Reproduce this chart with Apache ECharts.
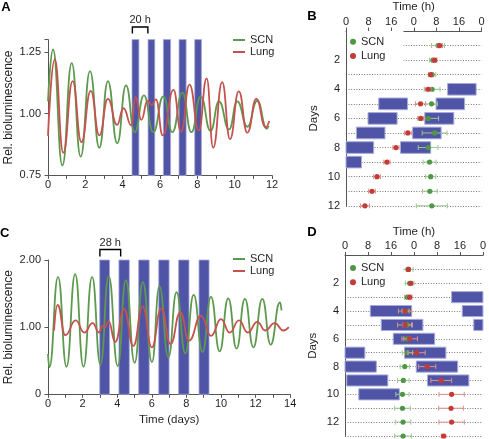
<!DOCTYPE html>
<html><head><meta charset="utf-8">
<script src="https://cdn.jsdelivr.net/npm/echarts@6/dist/echarts.min.js"></script>
<style>html,body{margin:0;padding:0;background:#fff}#c{width:489px;height:439px}</style>
</head><body><div id="c"></div>
<script>
// ---------- Panel A (20 h cycles) ----------
const aScn = [[0,1.05],[0.27,1.26],[0.77,0.79],[1.27,1.205],[1.75,0.826],[2.25,1.172],[2.75,0.862],[3.21,1.132],[3.71,0.88],[4.18,1.115],[4.64,0.925],[5.14,1.074],[5.64,0.925],[6.18,1.07],[6.66,0.925],[7.2,1.085],[7.68,0.925],[8.18,1.07],[8.71,0.93],[9.16,1.05],[9.7,0.936],[10.14,1.05],[10.68,0.947],[11.21,1.052],[11.72,0.94],[11.82,0.95]];
const aLung = [[0,0.91],[0.36,1.22],[0.82,0.842],[1.32,1.132],[1.79,0.885],[2.29,1.092],[2.75,0.912],[3.21,1.06],[3.7,0.955],[4.04,1.022],[4.47,0.952],[4.69,1.068],[5.0,0.975],[5.33,1.052],[5.56,1.035],[5.78,1.058],[6.15,0.912],[6.72,1.096],[7.13,0.927],[7.58,1.118],[8.08,0.932],[8.5,1.143],[8.85,0.862],[9.33,1.128],[9.75,0.897],[10.22,1.09],[10.68,0.923],[11.16,1.06],[11.66,0.945],[11.85,0.97]];
const aBandStart = [4.5, 5.36, 6.18, 7.02, 7.86];
const aBandEnd   = [4.87, 5.72, 6.57, 7.4, 8.22];

// ---------- Panel C (28 h cycles) ----------
const cScn = [[0,0.6],[0.08,0.40],[0.58,1.75],[1.07,0.41],[1.57,1.79],[2.05,0.41],[2.55,1.75],[3.03,0.44],[3.51,1.76],[4.03,0.42],[4.5,1.7],[5.01,0.47],[5.48,1.67],[6.01,0.48],[6.44,1.61],[6.96,0.55],[7.43,1.52],[7.94,0.61],[8.42,1.48],[8.93,0.63],[9.42,1.45],[9.92,0.64],[10.42,1.43],[10.9,0.68],[11.38,1.42],[11.87,0.7],[12.39,1.42],[12.87,0.74],[13.41,1.37],[13.5,1.25]];
const cLung = [[0.35,0.95],[0.55,1.33],[1.0,0.88],[1.6,1.10],[2.1,0.92],[2.58,1.06],[2.95,0.92],[3.15,1.02],[3.3,1.0],[3.5,1.09],[3.88,0.78],[4.4,1.27],[4.93,0.72],[5.47,1.31],[6.0,0.70],[6.55,1.28],[7.08,0.75],[7.65,1.22],[8.15,0.80],[8.85,1.17],[9.42,0.87],[10.0,1.12],[10.5,0.92],[11.04,1.10],[11.55,0.92],[12.1,1.08],[12.56,0.95],[13.1,1.06],[13.6,0.95],[13.92,1.0]];
const cBandStart = [2.99, 4.1, 5.24, 6.4, 7.55, 8.73];
const cBandEnd   = [3.56, 4.7, 5.85, 7.0, 8.15, 9.31];

// ---------- Panel B ----------
const bDarkDay   = [4, 5, 5, 6, 6, 7, 7, 8, 8, 9];
const bDarkStart = [36, 11.6, 31.9, 7.8, 27.9, 3.7, 23.6, 0, 19.3, 0];
const bDarkEnd   = [46.1, 21.8, 42, 18.1, 38.2, 13.8, 33.7, 9.8, 30, 5.5];
const bDays     = [1,2,3,4,5,6,7,8,9,10,11,12];
const bScnMean  = [32.6,30.8,30.5,30.5,30.3,29.1,31.4,29.1,29.6,30.0,29.7,30.4];
const bScnSd    = [2.3,1.2,1.3,2.8,2.1,3.7,4.4,3.5,2.3,1.8,2.6,5.5];
const bLungMean = [33.2,31.4,30.0,29.1,26.4,26.5,21.9,17.7,14.5,11.0,9.2,6.7];
const bLungSd   = [1.0,0.8,0.8,1.0,1.8,1.0,1.2,1.1,1.1,1.2,1.2,1.6];

// ---------- Panel D ----------
const dDarkDay   = [3, 4, 4, 5, 5, 6, 7, 7, 8, 8, 9, 9, 10];
const dDarkStart = [37.1, 8.8, 40.8, 12.6, 44.8, 16.8, 0, 20.7, 0, 24.8, 0.6, 28.7, 4.8];
const dDarkEnd   = [48, 23.2, 48, 27.1, 48, 31.2, 6.9, 35.1, 10.9, 39.2, 14.9, 43.1, 18.9];
const dDays     = [1,2,3,4,5,6,7,8,9,10,11,12,13];
const dScnMean  = [21.9,22.5,21.7,21.1,21.7,21.5,21.7,20.8,20.3,20.0,20.0,20.2,20.2];
const dScnSd    = [1.8,1.5,1.0,1.2,1.5,1.0,1.8,1.6,2.0,2.3,2.7,2.7,2.9];
const dLungMean = [22.1,22.9,22.5,20.9,20.9,22.5,24.9,28.6,33.5,37.1,36.9,37.1,34.3];
const dLungSd   = [0.5,0.5,0.8,2.3,2.6,2.7,3.0,3.0,3.6,4.4,4.3,4.4,0.8];

// ---------- styles ----------
const GREEN = '#5d9a4d', RED = '#c4524e';
const GDOT = '#4f9645', RDOT = '#c23b37';
const GERR = '#9dc591', RERR = '#de918d';
const BLUE = '#4f54a6', BLUE_EDGE = '#a7abd8';
const AX = '#555', TXT = '#231f20';
const FONT = 'Liberation Sans, Arial, sans-serif';

function near(v, step, base){ const k=(v-base)/step; return Math.abs(k-Math.round(k))<1e-6; }

function bandSeries(idx, starts, ends, yMin, yMax){
  return {type:'custom', xAxisIndex:idx, yAxisIndex:idx, z:1, silent:true,
    data: starts.map((s,i)=>[s, ends[i]]), encode:{x:[0,1]},
    renderItem:(p, api)=>{
      const p1 = api.coord([api.value(0), yMax]);
      const p2 = api.coord([api.value(1), yMin]);
      return {type:'rect', shape:{x:p1[0], y:p1[1], width:p2[0]-p1[0], height:p2[1]-p1[1]},
        style:{fill:BLUE, stroke:BLUE_EDGE, lineWidth:0.8}};
    }};
}
function darkSeries(idx, days, starts, ends){
  return {type:'custom', xAxisIndex:idx, yAxisIndex:idx, z:2, silent:true,
    data: days.map((d,i)=>[starts[i], ends[i], d]), encode:{x:[0,1], y:2},
    renderItem:(p, api)=>{
      const d = api.value(2);
      const p1 = api.coord([api.value(0), d]);
      const p2 = api.coord([api.value(1), d]);
      const h = Math.abs(api.size([0, 0.8])[1]);
      return {type:'rect', shape:{x:p1[0], y:p1[1]-h/2, width:p2[0]-p1[0], height:h},
        style:{fill:BLUE, stroke:BLUE_EDGE, lineWidth:1}};
    }};
}
function errSeries(name, idx, days, means, sds, dot, light){
  return {name, type:'custom', xAxisIndex:idx, yAxisIndex:idx, z:3, silent:true,
    itemStyle:{color:dot},
    data: days.map((d,i)=>[means[i], d, sds[i]]), encode:{x:0, y:1},
    renderItem:(p, api)=>{
      const m = api.value(0), d = api.value(1), s = api.value(2);
      const c = api.coord([m, d]), lo = api.coord([m-s, d]), hi = api.coord([m+s, d]);
      const st = {stroke:light, lineWidth:1};
      return {type:'group', children:[
        {type:'line', shape:{x1:lo[0], y1:lo[1], x2:hi[0], y2:hi[1]}, style:st},
        {type:'line', shape:{x1:lo[0], y1:lo[1]-2.5, x2:lo[0], y2:lo[1]+2.5}, style:st},
        {type:'line', shape:{x1:hi[0], y1:hi[1]-2.5, x2:hi[0], y2:hi[1]+2.5}, style:st},
        {type:'circle', shape:{cx:c[0], cy:c[1], r:2.6}, style:{fill:dot}}
      ]};
    }};
}
function lineSeries(name, idx, data, color){
  return {name, type:'line', xAxisIndex:idx, yAxisIndex:idx, z:3, data,
    showSymbol:false, symbol:'none', smooth:0.5, smoothMonotone:'x', silent:true,
    lineStyle:{color, width:1.8}, itemStyle:{color}};
}

const axLine = {lineStyle:{color:AX, width:1}};
const axTick = {length:3.5, lineStyle:{color:AX, width:1}};
const lbl = {fontSize:11, color:TXT, fontFamily:FONT};
const nameStyle = {fontSize:11.5, color:TXT, fontFamily:FONT};
const dotted = {show:true, lineStyle:{color:'#777', width:1, type:[1,1.6]}};

const chart = echarts.init(document.getElementById('c'), null, {renderer:'canvas'});
const option = {
  animation:false,
  backgroundColor:'#fff',
  textStyle:{fontFamily:FONT},
  grid:[
    {left:48, top:39.6, width:224, height:135.8},
    {left:346, top:29.5, width:135.5, height:176.3},
    {left:48, top:260, width:242.2, height:134.3},
    {left:345, top:255.5, width:140, height:180.5}
  ],
  xAxis:[
    {gridIndex:0, type:'value', min:0, max:12, interval:1, axisLine:axLine, axisTick:axTick,
     axisLabel:Object.assign({margin:4, formatter:v=>v%2===0?String(v):''}, lbl), splitLine:{show:false}},
    {gridIndex:1, type:'value', position:'top', min:0, max:48, interval:8, axisLine:axLine, axisTick:axTick,
     axisLabel:Object.assign({margin:4, formatter:v=>String(v%24)}, lbl), splitLine:{show:false},
     name:'Time (h)', nameLocation:'middle', nameGap:18, nameTextStyle:nameStyle},
    {gridIndex:2, type:'value', min:0, max:14, interval:1, axisLine:axLine, axisTick:axTick,
     axisLabel:Object.assign({margin:4, formatter:v=>v%2===0?String(v):''}, lbl), splitLine:{show:false},
     name:'Time (days)', nameLocation:'middle', nameGap:20, nameTextStyle:nameStyle},
    {gridIndex:3, type:'value', position:'top', min:0, max:48, interval:8, axisLine:axLine, axisTick:axTick,
     axisLabel:Object.assign({margin:4, formatter:v=>String(v%24)}, lbl), splitLine:{show:false},
     name:'Time (h)', nameLocation:'middle', nameGap:18, nameTextStyle:nameStyle}
  ],
  yAxis:[
    {gridIndex:0, type:'value', min:0.75, max:1.30, interval:0.25, axisLine:axLine, axisTick:axTick,
     axisLabel:Object.assign({margin:7, formatter:v=>near(v,0.25,0.75)?v.toFixed(2):''}, lbl), splitLine:{show:false},
     name:'Rel. bioluminescence', nameLocation:'middle', nameGap:33, nameTextStyle:Object.assign({}, nameStyle, {fontSize:12})},
    {gridIndex:1, type:'value', inverse:true, min:0, max:12, interval:1, axisLine:axLine, axisTick:{show:false},
     axisLabel:Object.assign({margin:6, formatter:v=>(v>0&&v%2===0)?String(v):''}, lbl), splitLine:dotted,
     name:'Days', nameLocation:'middle', nameGap:26, nameTextStyle:nameStyle},
    {gridIndex:2, type:'value', min:0, max:2, interval:1, axisLine:axLine, axisTick:axTick,
     axisLabel:Object.assign({margin:7, formatter:v=>v===0?'0':v.toFixed(2)}, lbl), splitLine:{show:false},
     name:'Rel. bioluminescence', nameLocation:'middle', nameGap:33, nameTextStyle:Object.assign({}, nameStyle, {fontSize:12})},
    {gridIndex:3, type:'value', inverse:true, min:0, max:13, interval:1, axisLine:axLine, axisTick:{show:false},
     axisLabel:Object.assign({margin:6, formatter:v=>(v>0&&v%2===0)?String(v):''}, lbl), splitLine:dotted,
     name:'Days', nameLocation:'middle', nameGap:26, nameTextStyle:nameStyle}
  ],
  legend:[
    {left:233, top:34, orient:'vertical', padding:0, itemGap:0, itemWidth:12, itemHeight:2, selectedMode:false,
     textStyle:{fontSize:11, lineHeight:12, color:TXT, fontFamily:FONT},
     data:[{name:'SCN', icon:'rect', itemStyle:{color:GREEN}}, {name:'Lung', icon:'rect', itemStyle:{color:RED}}]},
    {left:233, top:253, orient:'vertical', padding:0, itemGap:0, itemWidth:12, itemHeight:2, selectedMode:false,
     textStyle:{fontSize:11, lineHeight:12, color:TXT, fontFamily:FONT},
     data:[{name:'SCN', icon:'rect', itemStyle:{color:GREEN}}, {name:'Lung', icon:'rect', itemStyle:{color:RED}}]},
    {left:347, top:31, orient:'vertical', padding:[3.7,18,3,3], itemGap:0.3, itemWidth:6, itemHeight:6, selectedMode:false,
     backgroundColor:'#fff', z:10,
     textStyle:{fontSize:11, lineHeight:14, color:TXT, fontFamily:FONT},
     data:[{name:'SCN', icon:'circle', itemStyle:{color:GDOT}}, {name:'Lung', icon:'circle', itemStyle:{color:RDOT}}]},
    {left:347, top:257.3, orient:'vertical', padding:[3.7,18,3,3], itemGap:0.3, itemWidth:6, itemHeight:6, selectedMode:false,
     backgroundColor:'#fff', z:10,
     textStyle:{fontSize:11, lineHeight:14, color:TXT, fontFamily:FONT},
     data:[{name:'SCN', icon:'circle', itemStyle:{color:GDOT}}, {name:'Lung', icon:'circle', itemStyle:{color:RDOT}}]}
  ],
  series:[
    bandSeries(0, aBandStart, aBandEnd, 0.75, 1.30),
    lineSeries('SCN', 0, aScn, GREEN),
    lineSeries('Lung', 0, aLung, RED),
    bandSeries(2, cBandStart, cBandEnd, 0, 2),
    lineSeries('SCN', 2, cScn, GREEN),
    lineSeries('Lung', 2, cLung, RED),
    darkSeries(1, bDarkDay, bDarkStart, bDarkEnd),
    errSeries('SCN', 1, bDays, bScnMean, bScnSd, GDOT, GERR),
    errSeries('Lung', 1, bDays, bLungMean, bLungSd, RDOT, RERR),
    darkSeries(3, dDarkDay, dDarkStart, dDarkEnd),
    errSeries('SCN', 3, dDays, dScnMean, dScnSd, GDOT, GERR),
    errSeries('Lung', 3, dDays, dLungMean, dLungSd, RDOT, RERR)
  ]
};
chart.setOption(option);

// annotations: panel letters and period brackets (placed from axis scales)
const xa1 = chart.convertToPixel({xAxisIndex:0}, 4.52), xa2 = chart.convertToPixel({xAxisIndex:0}, 5.35);
const xc1 = chart.convertToPixel({xAxisIndex:2}, 3.0), xc2 = chart.convertToPixel({xAxisIndex:2}, 4.2);
const letter = (t, x, y) => ({type:'text', x, y, style:{text:t, font:'bold 13px '+FONT, fill:'#000', textAlign:'center', textVerticalAlign:'middle'}});
const bracket = (x1, x2, yTop, yBot) => ({type:'polyline', shape:{points:[[x1,yBot],[x1,yTop],[x2,yTop],[x2,yBot]]}, style:{stroke:'#000', lineWidth:1.4, fill:null}});
const note = (t, x, y) => ({type:'text', x, y, style:{text:t, font:'11px '+FONT, fill:TXT, textAlign:'center', textVerticalAlign:'middle'}});
chart.setOption({graphic:[
  letter('A', 6, 7.5), letter('B', 312, 16.3), letter('C', 4.7, 233.3), letter('D', 312, 232.5),
  bracket(xa1, xa2, 27, 33.5), note('20 h', (xa1+xa2)/2, 20.3),
  bracket(xc1, xc2, 249.5, 256.5), note('28 h', (xc1+xc2)/2, 243)
]});
</script>
</body></html>
